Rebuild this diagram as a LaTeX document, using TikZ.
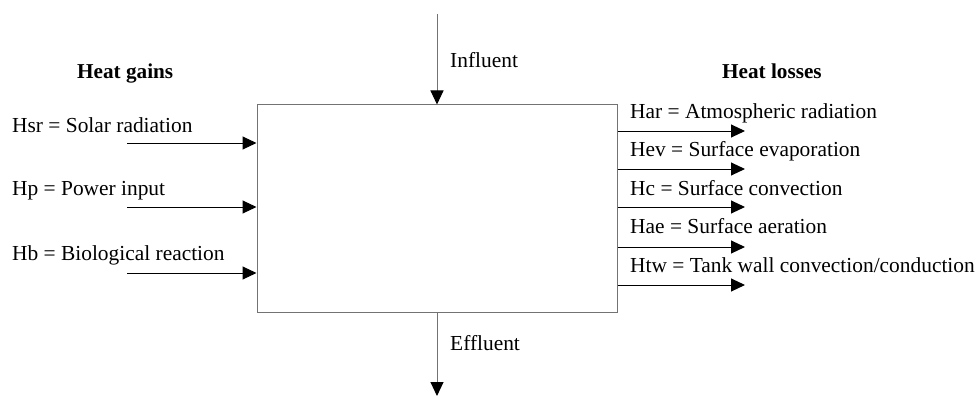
\documentclass[tikz,border=0pt]{standalone}
\usepackage{fontspec}
\setmainfont{Liberation Serif}
\usetikzlibrary{arrows.meta}
\begin{document}
\begin{tikzpicture}[x=1pt,y=-1pt,
  lbl/.style={anchor=base west,inner sep=0pt,font=\fontsize{21.4}{25}\selectfont},
  head/.style={anchor=base west,inner sep=0pt,font=\fontsize{21.2}{25}\selectfont\bfseries},
  flow/.style={line width=1pt,-{Triangle[length=14pt,width=13pt,fill=black,color=black]}},
  vflow/.style={flow,draw=black!55}]
\useasboundingbox (0,0) rectangle (978,396);
\node[draw=black!55,line width=1pt,minimum width=360pt,minimum height=207pt,inner sep=0pt] (box) at (437,208.5) {};
% headings
\node[head] (hg) at (77,79) {Heat gains};
\node[head] (hl) at (722,79) {Heat losses};
% influent / effluent
\coordinate (infrom) at (437,14);
\coordinate (efto) at (437,396);
\draw[vflow] (infrom) -- (box.north);
\draw[vflow] (box.south) -- (efto);
\node[lbl] (inf) at (450,67) {Influent};
\node[lbl] (eff) at (450,350) {Effluent};
% gains
\node[lbl] (g1) at (12,132) {Hsr = Solar radiation};
\node[lbl] (g2) at (12,195) {Hp = Power input};
\node[lbl] (g3) at (12,260) {Hb = Biological reaction};
\foreach \i/\y in {1/143,2/207,3/273}{
  \coordinate (gs\i) at (127,\y);
  \draw[flow] (gs\i) -- (box.west |- gs\i);
}
% losses
\node[lbl] (l1) at (630,118) {Har = Atmospheric radiation};
\node[lbl] (l2) at (630,157) {Hev = Surface evaporation};
\node[lbl] (l3) at (630,195) {Hc = Surface convection};
\node[lbl] (l4) at (630,233) {Hae = Surface aeration};
\node[lbl] (l5) at (630,272) {Htw = Tank wall convection/conduction};
\foreach \i/\y in {1/131,2/169,3/207,4/247,5/285}{
  \coordinate (le\i) at (745,\y);
  \draw[flow] (box.east |- le\i) -- (le\i);
}
\end{tikzpicture}
\end{document}
